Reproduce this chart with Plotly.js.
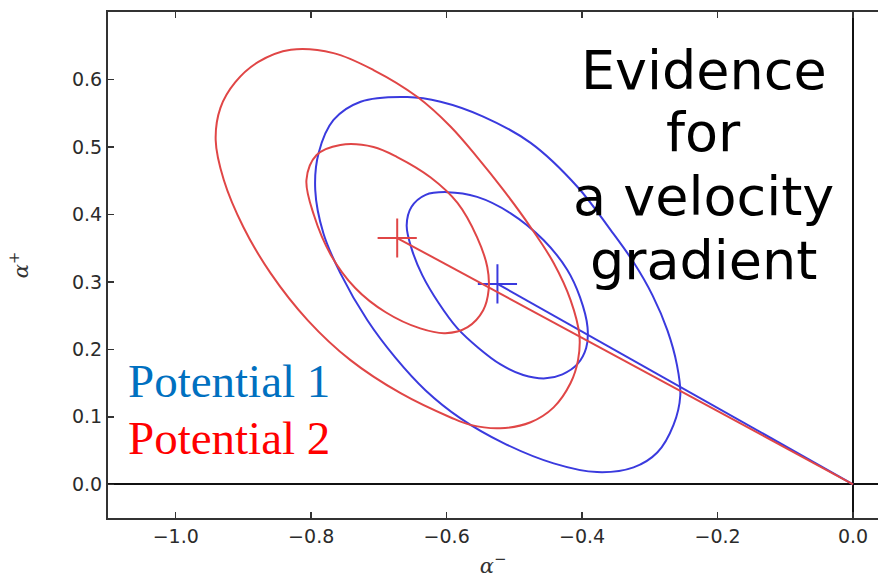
<!DOCTYPE html>
<html>
<head>
<meta charset="utf-8">
<script src="https://cdn.plot.ly/plotly-3.0.1.min.js"></script>
<style>html,body{margin:0;padding:0;background:#fff;}#chart{width:878px;height:578px;}</style>
</head>
<body>
<div id="chart"></div>
<script>
// ---- Data ----
// Potential 1 (blue): outer and inner confidence contours, best-fit point
const blueOuterX = [-0.658,-0.609,-0.546,-0.476,-0.407,-0.358,-0.324,-0.296,-0.274,-0.260,-0.255,-0.265,-0.289,-0.324,-0.378,-0.442,-0.516,-0.580,-0.631,-0.676,-0.717,-0.757,-0.782,-0.794,-0.789,-0.767,-0.727,-0.658];
const blueOuterY = [0.574,0.567,0.545,0.506,0.441,0.377,0.329,0.280,0.228,0.177,0.132,0.088,0.047,0.025,0.018,0.031,0.061,0.098,0.139,0.188,0.243,0.313,0.372,0.436,0.491,0.540,0.567,0.574];
const blueInnerX = [-0.599,-0.555,-0.506,-0.457,-0.422,-0.403,-0.392,-0.394,-0.407,-0.429,-0.454,-0.487,-0.521,-0.553,-0.584,-0.612,-0.636,-0.652,-0.659,-0.652,-0.631,-0.599];
const blueInnerY = [0.433,0.426,0.402,0.362,0.318,0.277,0.233,0.202,0.178,0.163,0.157,0.162,0.178,0.202,0.231,0.269,0.310,0.350,0.384,0.411,0.429,0.433];
const blueBestX = [-0.525];
const blueBestY = [0.297];
const blueRayX = [-0.525, 0.0];
const blueRayY = [0.297, 0.0];

// Potential 2 (red)
const redOuterX = [-0.830,-0.767,-0.708,-0.643,-0.594,-0.555,-0.516,-0.476,-0.442,-0.417,-0.404,-0.406,-0.417,-0.442,-0.476,-0.521,-0.565,-0.594,-0.668,-0.742,-0.805,-0.860,-0.900,-0.929,-0.941,-0.934,-0.912,-0.878,-0.830];
const redOuterY = [0.644,0.639,0.614,0.574,0.530,0.485,0.436,0.381,0.328,0.273,0.221,0.184,0.150,0.114,0.092,0.083,0.088,0.099,0.135,0.184,0.243,0.313,0.381,0.451,0.510,0.558,0.596,0.626,0.644];
const redInnerX = [-0.757,-0.708,-0.673,-0.624,-0.584,-0.555,-0.540,-0.538,-0.546,-0.569,-0.602,-0.639,-0.690,-0.735,-0.771,-0.796,-0.807,-0.792,-0.757];
const redInnerY = [0.503,0.500,0.485,0.455,0.417,0.366,0.322,0.288,0.258,0.233,0.224,0.231,0.255,0.291,0.340,0.399,0.451,0.488,0.503];
const redBestX = [-0.673];
const redBestY = [0.365];
const redRayX = [-0.673, 0.0];
const redRayY = [0.365, 0.0];

// Tick values
const xTicks = [-1.0, -0.8, -0.6, -0.4, -0.2, 0.0];
const yTicks = [0.0, 0.1, 0.2, 0.3, 0.4, 0.5, 0.6];

// Text
const seriesLabels = ["Potential 1", "Potential 2"];
const noteLines = ["Evidence", "for", "a velocity", "gradient"];

// ---- Styles ----
const BLUE = "#3a3ade";
const RED = "#e04646";
const LW = 2;

function ring(x, y, color) {
  return {x: x, y: y, type: "scatter", mode: "lines",
    line: {color: color, width: LW, shape: "spline", smoothing: 1},
    hoverinfo: "skip"};
}
function ray(x, y, color) {
  return {x: x, y: y, type: "scatter", mode: "lines",
    line: {color: color, width: LW}, hoverinfo: "skip"};
}
function best(x, y, color) {
  return {x: x, y: y, type: "scatter", mode: "markers",
    marker: {symbol: "cross-thin", size: 28, color: color, line: {color: color, width: 2}},
    hoverinfo: "skip"};
}

const traces = [
  ring(blueOuterX, blueOuterY, BLUE),
  ring(blueInnerX, blueInnerY, BLUE),
  ray(blueRayX, blueRayY, BLUE),
  best(blueBestX, blueBestY, BLUE),
  ring(redOuterX, redOuterY, RED),
  ring(redInnerX, redInnerY, RED),
  ray(redRayX, redRayY, RED),
  best(redBestX, redBestY, RED)
];

const noteY = [0.885, 0.761, 0.636, 0.508];
const annotations = noteLines.map((t, i) => ({
  text: t, xref: "paper", yref: "paper", x: 0.774, y: noteY[i],
  xanchor: "center", yanchor: "middle", showarrow: false,
  font: {family: "DejaVu Sans", size: 54, color: "#000"}
}));
annotations.push({
  text: seriesLabels[0], xref: "paper", yref: "paper", x: 0.024, y: 0.271,
  xanchor: "left", yanchor: "middle", showarrow: false,
  font: {family: "Liberation Serif", size: 47, color: "#0070c0"}
});
annotations.push({
  text: seriesLabels[1], xref: "paper", yref: "paper", x: 0.024, y: 0.158,
  xanchor: "left", yanchor: "middle", showarrow: false,
  font: {family: "Liberation Serif", size: 47, color: "#ff0000"}
});

const tickFont = {family: "DejaVu Sans", size: 19, color: "#2b2b2b"};

const layout = {
  width: 878, height: 578,
  margin: {l: 108, r: 0, t: 12, b: 60, pad: 0},
  paper_bgcolor: "#fff", plot_bgcolor: "#fff",
  showlegend: false, hovermode: false,
  xaxis: {
    range: [-1.1, 0.0369], tickvals: xTicks, tickformat: ".1f",
    ticks: "inside", ticklen: 6, tickwidth: 1.5, tickcolor: "#333",
    showline: true, linecolor: "#333", linewidth: 2, mirror: "ticks",
    showgrid: false, zeroline: true, zerolinecolor: "#111", zerolinewidth: 2,
    tickfont: tickFont, automargin: false,
    title: {text: "<i>α</i><sup>−</sup>", font: {family: "DejaVu Serif", size: 21, color: "#333"}, standoff: 14}
  },
  yaxis: {
    range: [-0.05, 0.7], tickvals: yTicks, tickformat: ".1f",
    ticks: "inside", ticklen: 6, tickwidth: 1.5, tickcolor: "#333",
    showline: true, linecolor: "#333", linewidth: 2, mirror: false,
    showgrid: false, zeroline: true, zerolinecolor: "#111", zerolinewidth: 2,
    tickfont: tickFont, automargin: false,
    title: {text: "<i>α</i><sup>+</sup>", font: {family: "DejaVu Serif", size: 21, color: "#333"}, standoff: 38}
  },
  annotations: annotations
};

Plotly.newPlot("chart", traces, layout, {staticPlot: true, displayModeBar: false});
</script>
</body>
</html>
